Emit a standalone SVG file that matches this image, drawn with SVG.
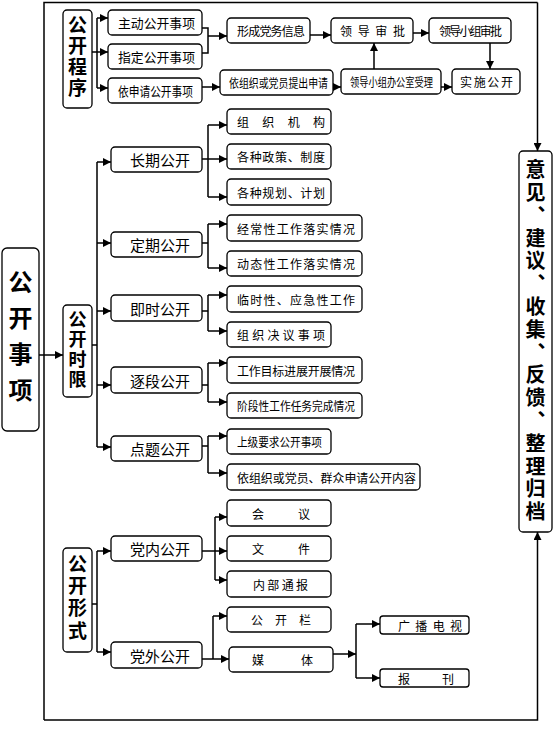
<svg xmlns="http://www.w3.org/2000/svg" width="553" height="731" viewBox="0 0 553 731">
<style>
.b{fill:#fff;stroke:#000;stroke-width:1.3}
.c{fill:none;stroke:#000;stroke-width:1.5}
.a{marker-end:url(#ah)}
text{font-family:"Noto Sans CJK SC","Noto Sans",sans-serif;fill:#000;dominant-baseline:central}
.vt{writing-mode:vertical-rl;text-anchor:middle;font-weight:bold}
.m{font-size:15px;text-anchor:middle}
.s{font-size:12px}
.t{font-size:13px}
</style>
<defs>
<marker id="ah" viewBox="0 0 10 10" refX="10" refY="5" markerWidth="9" markerHeight="8" markerUnits="userSpaceOnUse" orient="auto"><path d="M0,0 L10,5 L0,10 z" fill="#000"/></marker>
</defs>
<rect width="553" height="731" fill="#fff"/>
<g id="connectors">
<path class="c" d="M44,720 V2.5 H537.5"/>
<path class="c a" d="M537.5,2.5 V151"/>
<path class="c a" d="M44,720 H537.5 V532"/>
<path class="c a" d="M39,355 H63"/>
<path class="c" d="M92,52 H97 M97,18 V88"/>
<path class="c a" d="M97,18 H108"/>
<path class="c a" d="M97,52 H108"/>
<path class="c a" d="M97,88 H108"/>
<path class="c" d="M202,28 H208 V53 H202"/>
<path class="c a" d="M208,36 H227"/>
<path class="c a" d="M310,35 H331"/>
<path class="c a" d="M413,33 H429"/>
<path class="c a" d="M490,43 V69"/>
<path class="c a" d="M202,87 H220"/>
<path class="c a" d="M333,87 H341"/>
<path class="c a" d="M374,69 V43"/>
<path class="c a" d="M441,87 H452"/>
<path class="c" d="M92,345 H97 M97,162 V447"/>
<path class="c a" d="M97,162 H111"/>
<path class="c a" d="M97,243 H111"/>
<path class="c a" d="M97,311 H111"/>
<path class="c a" d="M97,385 H111"/>
<path class="c a" d="M97,447 H111"/>
<path class="c" d="M202,159 H208 M208,125 V197"/>
<path class="c a" d="M208,125 H227"/>
<path class="c a" d="M208,159 H227"/>
<path class="c a" d="M208,197 H227"/>
<path class="c" d="M202,243 H208 M208,224 V268"/>
<path class="c a" d="M208,224 H227"/>
<path class="c a" d="M208,268 H227"/>
<path class="c" d="M202,311 H208 M208,295 V331"/>
<path class="c a" d="M208,295 H227"/>
<path class="c a" d="M208,331 H227"/>
<path class="c" d="M202,385 H208 M208,363 V402"/>
<path class="c a" d="M208,363 H227"/>
<path class="c a" d="M208,402 H227"/>
<path class="c" d="M202,446 H208 M208,436 V473"/>
<path class="c a" d="M208,436 H227"/>
<path class="c a" d="M208,473 H227"/>
<path class="c" d="M92,604 H97 M97,551 V652"/>
<path class="c a" d="M97,551 H111"/>
<path class="c a" d="M97,652 H111"/>
<path class="c a" d="M202,551 H227"/>
<path class="c" d="M215,517 V580"/>
<path class="c a" d="M215,517 H227"/>
<path class="c a" d="M215,580 H227"/>
<path class="c a" d="M202,659 H229"/>
<path class="c" d="M213,616 V659"/>
<path class="c a" d="M213,616 H227"/>
<path class="c a" d="M333,654 H356"/>
<path class="c" d="M356,624 V678"/>
<path class="c a" d="M356,624 H380"/>
<path class="c a" d="M356,678 H380"/>
</g>
<g id="gongkaishixiang"><rect class="b" x="2" y="248" width="37" height="183" rx="5"/>
<text class="vt" x="20.5" y="342" style="font-size:24px;letter-spacing:12px">公开事项</text></g>
<g id="gongkaichengxu"><rect class="b" x="63" y="10" width="29" height="98" rx="4"/>
<text class="vt" x="77.5" y="57.5" style="font-size:19px;letter-spacing:2px">公开程序</text></g>
<g id="zhudong"><rect class="b" x="108" y="10" width="94" height="25" rx="4"/><text class="t" x="118" y="22.5" textLength="77" lengthAdjust="spacingAndGlyphs">主动公开事项</text></g>
<g id="zhiding"><rect class="b" x="108" y="44" width="94" height="25" rx="4"/><text class="t" x="118" y="56.5" textLength="77" lengthAdjust="spacingAndGlyphs">指定公开事项</text></g>
<g id="yishenqing"><rect class="b" x="108" y="78" width="94" height="25" rx="4"/><text class="t" x="118" y="90.5" textLength="75" lengthAdjust="spacingAndGlyphs">依申请公开事项</text></g>
<g id="xingcheng"><rect class="b" x="227" y="18" width="83" height="25" rx="4"/><text class="s" x="237" y="30.5" textLength="68" lengthAdjust="spacing">形成党务信息</text></g>
<g id="lingdaoshenpi"><rect class="b" x="331" y="18" width="82" height="25" rx="4"/><text class="s" x="340" y="30.5" textLength="65" lengthAdjust="spacing">领导审批</text></g>
<g id="xiaozushenpi"><rect class="b" x="429" y="18" width="82" height="25" rx="4"/><text class="s" x="439" y="30.5" textLength="63" lengthAdjust="spacing">领导小组审批</text></g>
<g id="yizuzhi"><rect class="b" x="220" y="70" width="113" height="25" rx="4"/><text class="s" x="229" y="82.5" textLength="99" lengthAdjust="spacingAndGlyphs">依组织或党员提出申请</text></g>
<g id="bangongshi"><rect class="b" x="341" y="69" width="100" height="25" rx="4"/><text class="s" x="350" y="81.5" textLength="83" lengthAdjust="spacingAndGlyphs">领导小组办公室受理</text></g>
<g id="shishi"><rect class="b" x="452" y="69" width="68" height="25" rx="4"/><text class="s" x="460" y="81.5" textLength="53" lengthAdjust="spacing">实施公开</text></g>
<g id="gongkaishixian"><rect class="b" x="63" y="305" width="29" height="92" rx="4"/>
<text class="vt" x="77.5" y="350" style="font-size:18px;letter-spacing:1.7px">公开时限</text></g>
<g id="changqi"><rect class="b" x="111" y="147" width="91" height="25" rx="4"/><text class="m" x="160" y="159.5">长期公开</text></g>
<g id="dingqi"><rect class="b" x="111" y="232" width="91" height="25" rx="4"/><text class="m" x="160" y="244.5">定期公开</text></g>
<g id="jishi"><rect class="b" x="111" y="295" width="91" height="26" rx="4"/><text class="m" x="160" y="308">即时公开</text></g>
<g id="zhuduan"><rect class="b" x="111" y="367" width="91" height="26" rx="4"/><text class="m" x="160" y="380">逐段公开</text></g>
<g id="dianti"><rect class="b" x="111" y="436" width="91" height="25" rx="4"/><text class="m" x="160" y="448.5">点题公开</text></g>
<g id="zuzhijigou"><rect class="b" x="227" y="109" width="104" height="25" rx="4"/><text class="s" x="237" y="121.5" textLength="88" lengthAdjust="spacing">组织机构</text></g>
<g id="zhengce"><rect class="b" x="227" y="144" width="104" height="25" rx="4"/><text class="s" x="237" y="156.5" textLength="88" lengthAdjust="spacing">各种政策、制度</text></g>
<g id="guihua"><rect class="b" x="227" y="179" width="104" height="26" rx="4"/><text class="s" x="237" y="192" textLength="88" lengthAdjust="spacing">各种规划、计划</text></g>
<g id="jingchang"><rect class="b" x="227" y="215" width="135" height="26" rx="4"/><text class="s" x="237" y="228" textLength="118" lengthAdjust="spacing">经常性工作落实情况</text></g>
<g id="dongtai"><rect class="b" x="227" y="251" width="135" height="25" rx="4"/><text class="s" x="237" y="263.5" textLength="118" lengthAdjust="spacing">动态性工作落实情况</text></g>
<g id="linshi"><rect class="b" x="227" y="286" width="135" height="26" rx="4"/><text class="s" x="237" y="299" textLength="118" lengthAdjust="spacing">临时性、应急性工作</text></g>
<g id="jueyi"><rect class="b" x="227" y="322" width="104" height="25" rx="4"/><text class="s" x="237" y="334.5" textLength="88" lengthAdjust="spacing">组织决议事项</text></g>
<g id="mubiao"><rect class="b" x="227" y="357" width="135" height="26" rx="4"/><text class="s" x="237" y="370" textLength="118" lengthAdjust="spacing">工作目标进展开展情况</text></g>
<g id="jieduan"><rect class="b" x="227" y="393" width="135" height="25" rx="4"/><text class="s" x="237" y="405.5" textLength="118" lengthAdjust="spacingAndGlyphs">阶段性工作任务完成情况</text></g>
<g id="shangji"><rect class="b" x="227" y="429" width="104" height="25" rx="4"/><text class="s" x="237" y="441.5" textLength="85" lengthAdjust="spacingAndGlyphs">上级要求公开事项</text></g>
<g id="shenqingneirong"><rect class="b" x="227" y="464" width="193" height="26" rx="4"/><text class="s" x="237" y="477" textLength="179" lengthAdjust="spacingAndGlyphs">依组织或党员、群众申请公开内容</text></g>
<g id="gongkaixingshi"><rect class="b" x="63" y="548" width="29" height="104" rx="4"/>
<text class="vt" x="77.5" y="598.5" style="font-size:19px;letter-spacing:3.3px">公开形式</text></g>
<g id="dangnei"><rect class="b" x="111" y="536" width="91" height="25" rx="4"/><text class="m" x="160" y="548.5">党内公开</text></g>
<g id="dangwai"><rect class="b" x="111" y="642" width="91" height="26" rx="4"/><text class="m" x="160" y="655">党外公开</text></g>
<g id="huiyi"><rect class="b" x="227" y="500" width="104" height="26" rx="4"/><text class="s" x="252" y="513" textLength="58" lengthAdjust="spacing">会议</text></g>
<g id="wenjian"><rect class="b" x="227" y="536" width="104" height="25" rx="4"/><text class="s" x="252" y="548.5" textLength="58" lengthAdjust="spacing">文件</text></g>
<g id="neibutongbao"><rect class="b" x="227" y="571" width="104" height="26" rx="4"/><text class="s" x="253" y="584" textLength="55" lengthAdjust="spacing">内部通报</text></g>
<g id="gongkailan"><rect class="b" x="227" y="607" width="104" height="25" rx="4"/><text class="s" x="251" y="619.5" textLength="60" lengthAdjust="spacing">公开栏</text></g>
<g id="meiti"><rect class="b" x="229" y="647" width="104" height="25" rx="4"/><text class="s" x="252" y="659.5" textLength="61" lengthAdjust="spacing">媒体</text></g>
<g id="guangbo"><rect class="b" x="380" y="616" width="89" height="18" rx="3"/><text class="s" x="398" y="625" textLength="64" lengthAdjust="spacing">广播电视</text></g>
<g id="baokan"><rect class="b" x="380" y="669" width="89" height="18" rx="3"/><text class="s" x="398" y="678" textLength="56" lengthAdjust="spacing">报刊</text></g>
<g id="yijian"><rect class="b" x="519" y="151" width="33" height="381" rx="4"/>
<text class="vt" x="535.5" y="342" style="font-size:20px;letter-spacing:2.8px;font-feature-settings:'vert' 0">意见、建议、收集、反馈、整理归档</text></g>
</svg>
